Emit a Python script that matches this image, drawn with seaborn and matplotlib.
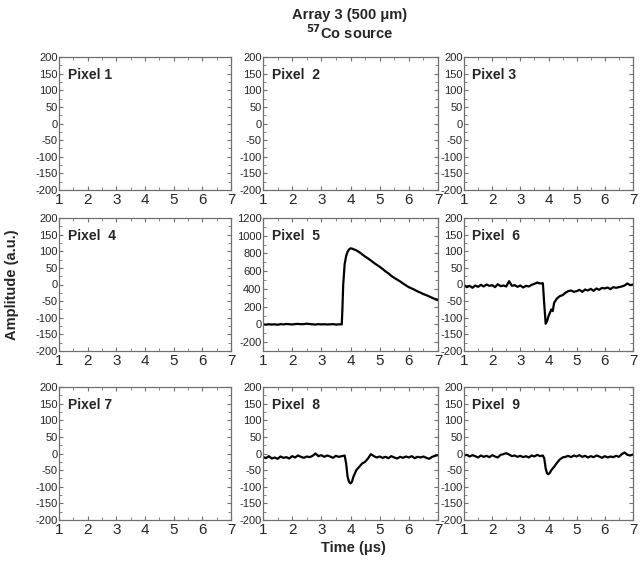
import numpy as np
import matplotlib.pyplot as plt
import seaborn as sns
from matplotlib.ticker import MultipleLocator

sns.set_style('ticks')
plt.rcParams['font.family'] = ['Liberation Sans', 'DejaVu Sans']
plt.rcParams['axes.unicode_minus'] = False

# Pixel 5: charge pulse
t5 = [1.0, 1.1, 1.2, 1.3, 1.4, 1.5, 1.6, 1.7, 1.8, 1.9, 2.0, 2.1, 2.2, 2.3, 2.4,
      2.5, 2.6, 2.7, 2.8, 2.9, 3.0, 3.1, 3.2, 3.3, 3.4, 3.5, 3.6, 3.7,
      3.72, 3.75, 3.8, 3.85, 3.9, 3.95, 4.0, 4.05,
      4.1, 4.2, 4.3, 4.4, 4.5, 4.6, 4.7, 4.8, 4.9, 5.0, 5.1, 5.2, 5.3, 5.4, 5.5,
      5.6, 5.7, 5.8, 5.9, 6.0, 6.1, 6.2, 6.3, 6.4, 6.5, 6.6, 6.7, 6.8, 6.9, 7.0]
v5 = [0, -3, 2, -2, 1, -4, 3, 0, 5, 2, -1, 4, 6, 2, 3,
      8, 4, 1, -2, 3, 0, 2, -1, 1, 3, -2, 1, 0,
      150, 450, 680, 770, 820, 845, 858, 855,
      848, 835, 815, 790, 765, 745, 720, 695, 672, 650, 625, 598, 575, 548, 525,
      505, 485, 462, 440, 420, 405, 390, 372, 358, 342, 330, 315, 300, 285, 272]

# Pixel 6: induced negative signal
t6 = [1.0, 1.1, 1.2, 1.3, 1.4, 1.5, 1.6, 1.7, 1.8, 1.9, 2.0, 2.1, 2.2, 2.3, 2.4,
      2.5, 2.6, 2.7, 2.8, 2.9, 3.0, 3.1, 3.2, 3.3, 3.4, 3.5, 3.6, 3.7, 3.8,
      3.85, 3.9, 3.95, 4.0, 4.05, 4.1, 4.15, 4.2, 4.3, 4.4, 4.5, 4.6, 4.7, 4.8,
      4.9, 5.0, 5.1, 5.2, 5.3, 5.4, 5.5, 5.6, 5.7, 5.8, 5.9, 6.0, 6.1, 6.2, 6.3,
      6.4, 6.5, 6.6, 6.7, 6.8, 6.9, 7.0]
v6 = [-2, -8, -4, -10, -3, -7, -1, -6, 0, -4, -2, -8, 1, -5, -3,
      -6, 10, -4, -2, -7, -3, -9, -4, -6, -1, 2, 6, 3, 4,
      -60, -118, -110, -95, -85, -75, -80, -55, -42, -35, -32, -25, -20, -18,
      -22, -20, -16, -22, -15, -18, -13, -19, -12, -16, -10, -12, -9, -14, -8,
      -10, -8, -6, -3, 3, -2, 0]

# Pixel 8
t8 = [1.0, 1.1, 1.2, 1.3, 1.4, 1.5, 1.6, 1.7, 1.8, 1.9, 2.0, 2.1, 2.2, 2.3, 2.4,
      2.5, 2.6, 2.7, 2.8, 2.9, 3.0, 3.1, 3.2, 3.3, 3.4, 3.5, 3.6, 3.7, 3.8,
      3.85, 3.9, 3.95, 4.0, 4.05, 4.1, 4.2, 4.3, 4.4, 4.5, 4.6, 4.7, 4.8,
      4.9, 5.0, 5.1, 5.2, 5.3, 5.4, 5.5, 5.6, 5.7, 5.8, 5.9, 6.0, 6.1, 6.2, 6.3,
      6.4, 6.5, 6.6, 6.7, 6.8, 6.9, 7.0]
v8 = [-10, -14, -8, -15, -12, -16, -9, -13, -11, -15, -8, -12, -6, -10, -13,
      -9, -11, -7, 0, -8, -5, -10, -6, -9, -13, -7, -10, -8, -6,
      -30, -70, -85, -90, -85, -70, -50, -40, -30, -25, -15, -2, -8,
      -12, -9, -13, -10, -14, -8, -12, -15, -10, -13, -9, -12, -8, -14, -10,
      -12, -9, -13, -16, -10, -7, -5]

# Pixel 9
t9 = [1.0, 1.1, 1.2, 1.3, 1.4, 1.5, 1.6, 1.7, 1.8, 1.9, 2.0, 2.1, 2.2, 2.3, 2.4,
      2.5, 2.6, 2.7, 2.8, 2.9, 3.0, 3.1, 3.2, 3.3, 3.4, 3.5, 3.6, 3.7, 3.8, 3.85,
      3.9, 3.95, 4.0, 4.05, 4.1, 4.2, 4.3, 4.4, 4.5, 4.6, 4.7, 4.8,
      4.9, 5.0, 5.1, 5.2, 5.3, 5.4, 5.5, 5.6, 5.7, 5.8, 5.9, 6.0, 6.1, 6.2, 6.3,
      6.4, 6.5, 6.6, 6.7, 6.8, 6.9, 7.0]
v9 = [-6, -4, -9, -5, -8, -12, -6, -10, -7, -11, -5, -9, -12, -4, -2,
      1, -3, -8, -6, -10, -7, -11, -8, -12, -6, -9, -4, -8, -6, -15,
      -45, -60, -62, -58, -50, -40, -28, -18, -12, -10, -7, -11,
      -6, -9, -5, -10, -7, -12, -8, -11, -6, -9, -13, -8, -12, -9, -11,
      -7, -10, -2, 3, -4, -6, -3]

traces = {5: (t5, v5), 6: (t6, v6), 8: (t8, v8), 9: (t9, v9)}
pixel_labels = ['Pixel 1', 'Pixel  2', 'Pixel 3', 'Pixel  4', 'Pixel  5',
                'Pixel  6', 'Pixel 7', 'Pixel  8', 'Pixel  9']

W, H = 640, 568
fig = plt.figure(figsize=(W / 100, H / 100), dpi=100)

col_left = [59, 263, 464]
col_w = [172, 175, 169]
row_top = [57, 218, 387]
ax_h = 133
edge = '#707070'

for i in range(9):
    r, c = divmod(i, 3)
    ax = fig.add_axes([col_left[c] / W, 1 - (row_top[r] + ax_h) / H, col_w[c] / W, ax_h / H])
    n = i + 1
    if n in traces:
        t, v = traces[n]
        sns.lineplot(x=t, y=v, ax=ax, color='black', linewidth=1.6)
    ax.set_xlim(1, 7)
    ax.xaxis.set_major_locator(MultipleLocator(1))
    ax.xaxis.set_minor_locator(MultipleLocator(0.5))
    if n == 5:
        ax.set_ylim(-300, 1200)
        ax.yaxis.set_major_locator(MultipleLocator(200))
        ax.yaxis.set_minor_locator(MultipleLocator(100))
        ax.set_yticks([-200, 0, 200, 400, 600, 800, 1000, 1200])
    else:
        ax.set_ylim(-200, 200)
        ax.yaxis.set_major_locator(MultipleLocator(50))
        ax.yaxis.set_minor_locator(MultipleLocator(25))
    ax.tick_params(which='both', direction='in', top=True, right=True, color=edge)
    ax.tick_params(which='major', length=3, width=0.8)
    ax.tick_params(which='minor', length=2, width=0.6)
    ax.tick_params(axis='x', labelsize=11, pad=2)
    ax.tick_params(axis='y', labelsize=8, pad=1)
    for s in ax.spines.values():
        s.set_color(edge)
        s.set_linewidth(0.9)
    ax.set_xlabel('')
    ax.set_ylabel('')
    ax.text(0.05, 0.92, pixel_labels[i], transform=ax.transAxes,
            fontsize=10, fontweight='bold', ha='left', va='top')

fig.text(350 / W, 1 - 15 / H, 'Array 3 (500 μm)', ha='center', va='center',
         fontsize=10.5, fontweight='bold')
fig.text(350 / W, 1 - 33 / H, r'$^{\mathbf{57}}$Co source', ha='center', va='center',
         fontsize=10.5, fontweight='bold')
fig.text(12 / W, 1 - 285 / H, 'Amplitude (a.u.)', rotation=90, ha='center', va='center',
         fontsize=10.5, fontweight='bold')
fig.text(353 / W, 1 - 548 / H, 'Time (μs)', ha='center', va='center',
         fontsize=10.5, fontweight='bold')

fig.savefig('out.png', dpi=100)
